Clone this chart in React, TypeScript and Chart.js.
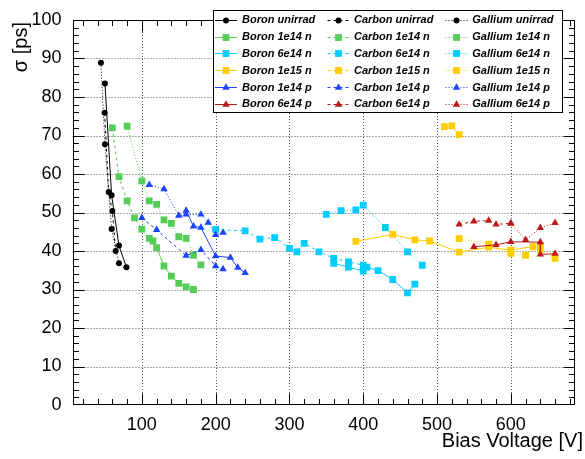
import { useEffect, useRef } from "react";
import { Chart, registerables } from "chart.js";

Chart.register(...registerables);

// ---- axis ticks ----
const xTickValues = [100, 200, 300, 400, 500, 600];
const yTickValues = [0, 10, 20, 30, 40, 50, 60, 70, 80, 90, 100];
const X_MIN = 6;
const X_MAX = 687;
const Y_MIN = 0;
const Y_MAX = 100;

// ---- unirradiated ----
const boronUnirradV = [50, 59, 69, 79];
const boronUnirradS = [83.5, 54.5, 41.4, 35.8];
const carbonUnirradV = [49.5, 55, 60, 64.5];
const carbonUnirradS = [75.9, 55.3, 50.4, 40.0];
const galliumUnirradV = [44.5, 50, 59, 69];
const galliumUnirradS = [88.9, 67.7, 45.7, 36.8];

// ---- 1e14 n ----
const boron1e14nV = [115, 120, 130, 140, 150, 160, 170];
const boron1e14nS = [42.6, 40.9, 36.1, 33.5, 31.6, 30.7, 30.0];
const carbon1e14nV = [60, 69, 80, 90, 100, 110];
const carbon1e14nS = [72.0, 59.3, 53.0, 48.6, 45.7, 43.3];
const gallium1e14nV = [80, 100, 110, 120, 130, 140, 150, 160, 170, 180];
const gallium1e14nS = [72.4, 58.2, 53.0, 52.1, 48.1, 47.2, 43.7, 43.3, 38.9, 36.4];

// ---- 6e14 n ----
const boron6e14nV = [360, 380, 400, 405, 420, 440, 460, 470];
const boron6e14nS = [36.8, 35.8, 34.8, 35.8, 34.9, 32.6, 29.1, 31.4];
const carbon6e14nV = [200, 240, 260, 280, 300, 310, 320, 340, 360, 380, 400];
const carbon6e14nS = [45.6, 45.2, 43.1, 43.5, 40.7, 39.8, 42.0, 39.8, 38.1, 37.2, 36.3];
const gallium6e14nV = [350, 370, 390, 400, 430, 460, 480];
const gallium6e14nS = [49.5, 50.5, 50.7, 51.9, 46.1, 39.8, 36.3];

// ---- 1e15 n ----
const boron1e15nV = [390, 440, 470, 490, 530, 570, 600, 640];
const boron1e15nS = [42.5, 44.3, 42.9, 42.6, 39.7, 41.0, 40.2, 41.5];
const carbon1e15nV = [510, 520, 530];
const carbon1e15nS = [72.3, 72.5, 70.2];
const gallium1e15nV = [530, 570, 600, 620, 630, 640, 660];
const gallium1e15nS = [43.2, 41.8, 39.4, 38.9, 41.1, 40.3, 38.1];

// ---- 1e14 p ----
const boron1e14pV = [160, 170, 180, 200, 220, 230, 240];
const boron1e14pS = [50.5, 46.4, 46.1, 38.7, 38.3, 35.7, 34.3];
const carbon1e14pV = [100, 120, 160, 180, 200, 210];
const carbon1e14pS = [48.6, 45.5, 38.8, 40.3, 36.1, 35.3];
const gallium1e14pV = [110, 130, 150, 160, 180, 190, 200, 210];
const gallium1e14pS = [57.2, 56.1, 49.2, 49.5, 49.5, 47.4, 44.2, 44.8];

// ---- 6e14 p ----
const boron6e14pV = [550, 580, 600, 640, 640, 660];
const boron6e14pS = [41.1, 41.6, 42.4, 42.3, 39.1, 39.3];
const carbon6e14pV = [530, 550, 570, 580, 600];
const carbon6e14pS = [46.9, 47.7, 47.9, 46.9, 47.2];
const gallium6e14pV = [600, 620, 640, 660];
const gallium6e14pS = [47.2, 42.9, 46.0, 47.3];

const FONT = "'Liberation Sans', Arial, Helvetica, sans-serif";

type SeriesDef = {
  label: string;
  v: number[];
  s: number[];
  color: string;
  dash: number[];
  marker: "circle" | "rect" | "triangle";
};

const BLACK = "#000000";
const GREEN = "#55cc55";
const CYAN = "#00ccff";
const YELLOW = "#ffcc00";
const BLUE = "#1a44ff";
const RED = "#bb1a1a";

const SOLID: number[] = [];
const DASHED = [3, 3];
const DOTTED = [1, 2];

const series: SeriesDef[] = [
  { label: "Boron unirrad", v: boronUnirradV, s: boronUnirradS, color: BLACK, dash: SOLID, marker: "circle" },
  { label: "Carbon unirrad", v: carbonUnirradV, s: carbonUnirradS, color: BLACK, dash: DASHED, marker: "circle" },
  { label: "Gallium unirrad", v: galliumUnirradV, s: galliumUnirradS, color: BLACK, dash: DOTTED, marker: "circle" },
  { label: "Boron 1e14 n", v: boron1e14nV, s: boron1e14nS, color: GREEN, dash: SOLID, marker: "rect" },
  { label: "Carbon 1e14 n", v: carbon1e14nV, s: carbon1e14nS, color: GREEN, dash: DASHED, marker: "rect" },
  { label: "Gallium 1e14 n", v: gallium1e14nV, s: gallium1e14nS, color: GREEN, dash: DOTTED, marker: "rect" },
  { label: "Boron 6e14 n", v: boron6e14nV, s: boron6e14nS, color: CYAN, dash: SOLID, marker: "rect" },
  { label: "Carbon 6e14 n", v: carbon6e14nV, s: carbon6e14nS, color: CYAN, dash: DASHED, marker: "rect" },
  { label: "Gallium 6e14 n", v: gallium6e14nV, s: gallium6e14nS, color: CYAN, dash: DOTTED, marker: "rect" },
  { label: "Boron 1e15 n", v: boron1e15nV, s: boron1e15nS, color: YELLOW, dash: SOLID, marker: "rect" },
  { label: "Carbon 1e15 n", v: carbon1e15nV, s: carbon1e15nS, color: YELLOW, dash: DASHED, marker: "rect" },
  { label: "Gallium 1e15 n", v: gallium1e15nV, s: gallium1e15nS, color: YELLOW, dash: DOTTED, marker: "rect" },
  { label: "Boron 1e14 p", v: boron1e14pV, s: boron1e14pS, color: BLUE, dash: SOLID, marker: "triangle" },
  { label: "Carbon 1e14 p", v: carbon1e14pV, s: carbon1e14pS, color: BLUE, dash: DASHED, marker: "triangle" },
  { label: "Gallium 1e14 p", v: gallium1e14pV, s: gallium1e14pS, color: BLUE, dash: DOTTED, marker: "triangle" },
  { label: "Boron 6e14 p", v: boron6e14pV, s: boron6e14pS, color: RED, dash: SOLID, marker: "triangle" },
  { label: "Carbon 6e14 p", v: carbon6e14pV, s: carbon6e14pS, color: RED, dash: DASHED, marker: "triangle" },
  { label: "Gallium 6e14 p", v: gallium6e14pV, s: gallium6e14pS, color: RED, dash: DOTTED, marker: "triangle" },
];

const markerRadius = { circle: 3, rect: 4.8, triangle: 4.3 };

function drawMarker(ctx: CanvasRenderingContext2D, kind: string, x: number, y: number, color: string) {
  const r = (markerRadius as any)[kind];
  ctx.fillStyle = color;
  ctx.beginPath();
  if (kind === "circle") {
    ctx.arc(x, y, r, 0, Math.PI * 2);
  } else if (kind === "rect") {
    const h = r * Math.SQRT1_2;
    ctx.rect(x - h, y - h, 2 * h, 2 * h);
  } else {
    ctx.moveTo(x, y - r);
    ctx.lineTo(x + Math.sin((Math.PI * 2) / 3) * r, y - Math.cos((Math.PI * 2) / 3) * r);
    ctx.lineTo(x + Math.sin((Math.PI * 4) / 3) * r, y - Math.cos((Math.PI * 4) / 3) * r);
    ctx.closePath();
  }
  ctx.fill();
}

const framePlugin = {
  id: "rootFrame",
  beforeDatasetsDraw(chart: any) {
    const { ctx, chartArea: a, scales } = chart;
    const x = scales.x;
    const y = scales.y;
    ctx.save();
    ctx.strokeStyle = "#555";
    ctx.lineWidth = 1;
    ctx.setLineDash([1, 2]);
    for (const v of xTickValues) {
      const px = Math.round(x.getPixelForValue(v)) + 0.5;
      ctx.beginPath();
      ctx.moveTo(px, a.top);
      ctx.lineTo(px, a.bottom);
      ctx.stroke();
    }
    for (const v of yTickValues) {
      if (v <= Y_MIN || v >= Y_MAX) continue;
      const py = Math.round(y.getPixelForValue(v)) + 0.5;
      ctx.beginPath();
      ctx.moveTo(a.left, py);
      ctx.lineTo(a.right, py);
      ctx.stroke();
    }
    ctx.restore();
  },
  afterDatasetsDraw(chart: any) {
    const { ctx, chartArea: a, scales } = chart;
    const x = scales.x;
    const y = scales.y;
    ctx.save();
    ctx.strokeStyle = "#000";
    ctx.lineWidth = 1;
    ctx.setLineDash([]);
    const L = Math.round(a.left) + 0.5;
    const R = Math.round(a.right) - 0.5;
    const T = Math.round(a.top) + 0.5;
    const B = Math.round(a.bottom) - 0.5;
    ctx.strokeRect(L, T, R - L, B - T);
    const major = 11;
    const minor = 5.5;
    ctx.beginPath();
    for (let v = 20; v < X_MAX; v += 20) {
      if (v < X_MIN) continue;
      const px = Math.round(x.getPixelForValue(v)) + 0.5;
      const len = v % 100 === 0 ? major : minor;
      ctx.moveTo(px, B);
      ctx.lineTo(px, B - len);
      ctx.moveTo(px, T);
      ctx.lineTo(px, T + len);
    }
    for (let v = 2; v < Y_MAX; v += 2) {
      const py = Math.round(y.getPixelForValue(v)) + 0.5;
      const len = v % 10 === 0 ? major : minor;
      ctx.moveTo(L, py);
      ctx.lineTo(L + len, py);
      ctx.moveTo(R, py);
      ctx.lineTo(R - len, py);
    }
    ctx.stroke();

    // axis titles
    ctx.fillStyle = "#000";
    ctx.font = `20px ${FONT}`;
    ctx.textBaseline = "alphabetic";
    ctx.textAlign = "right";
    ctx.fillText("Bias Voltage [V]", 583, 447);
    ctx.save();
    ctx.translate(27, 22);
    ctx.rotate(-Math.PI / 2);
    ctx.textAlign = "right";
    ctx.fillText("σ [ps]", 0, 0);
    ctx.restore();
    ctx.restore();
  },
};

const LEG_MARK_X = [226, 338.5, 456.5];
const LEG_TEXT_X = [242, 354, 472.3];
const LEG_ROW_Y0 = 19.8;
const LEG_ROW_STEP = 16.8;

const legendPlugin = {
  id: "rootLegend",
  afterDraw(chart: any) {
    const ctx: CanvasRenderingContext2D = chart.ctx;
    ctx.save();
    ctx.fillStyle = "#fff";
    ctx.fillRect(213.5, 10.5, 349, 102);
    ctx.strokeStyle = "#000";
    ctx.lineWidth = 1;
    ctx.setLineDash([]);
    ctx.strokeRect(213.5, 10.5, 349, 102);
    chart.data.datasets.forEach((ds: any, i: number) => {
      const col = i % 3;
      const row = Math.floor(i / 3);
      const cx = LEG_MARK_X[col];
      const cy = LEG_ROW_Y0 + row * LEG_ROW_STEP;
      const ly = Math.round(cy) + 0.5;
      ctx.strokeStyle = ds.borderColor;
      ctx.lineWidth = 1;
      ctx.setLineDash(ds.borderDash || []);
      ctx.beginPath();
      ctx.moveTo(cx - 11, ly);
      ctx.lineTo(cx + 11, ly);
      ctx.stroke();
      ctx.setLineDash([]);
      drawMarker(ctx, ds.pointStyle, cx, ly, ds.pointBackgroundColor);
      ctx.fillStyle = "#000";
      ctx.font = `italic bold 11px ${FONT}`;
      ctx.textAlign = "left";
      ctx.textBaseline = "middle";
      ctx.fillText(ds.label, LEG_TEXT_X[col], cy + 0.5);
    });
    ctx.restore();
  },
};

export default function App() {
  const ref = useRef<HTMLCanvasElement>(null);
  useEffect(() => {
    const canvas = ref.current;
    if (!canvas) return;
    const datasets = series.map((sd, i) => ({
      label: sd.label,
      data: sd.v.map((vx, k) => ({ x: vx, y: sd.s[k] })),
      showLine: true,
      borderColor: sd.color,
      backgroundColor: sd.color,
      pointBackgroundColor: sd.color,
      pointBorderWidth: 0,
      pointStyle: sd.marker,
      pointRadius: markerRadius[sd.marker],
      pointHoverRadius: markerRadius[sd.marker],
      borderWidth: 1,
      borderDash: sd.dash,
      fill: false,
      tension: 0,
      order: -i,
    }));
    const tickFont = { family: FONT, size: 18 };
    const chart = new Chart(canvas, {
      type: "scatter",
      data: { datasets } as any,
      options: {
        responsive: false,
        animation: false,
        devicePixelRatio: 1,
        events: [],
        layout: { padding: { top: 20, right: 10, left: 0, bottom: 0 } },
        plugins: {
          legend: { display: false },
          tooltip: { enabled: false },
          title: { display: false },
        },
        scales: {
          x: {
            type: "linear",
            min: X_MIN,
            max: X_MAX,
            grid: { display: false },
            border: { display: false },
            afterBuildTicks: (s: any) => {
              s.ticks = xTickValues.map((v) => ({ value: v }));
            },
            afterFit: (s: any) => {
              s.height = 54;
            },
            ticks: { font: tickFont, color: "#000", padding: 1, maxRotation: 0, autoSkip: false },
          },
          y: {
            type: "linear",
            min: Y_MIN,
            max: Y_MAX,
            grid: { display: false },
            border: { display: false },
            afterBuildTicks: (s: any) => {
              s.ticks = yTickValues.map((v) => ({ value: v }));
            },
            afterFit: (s: any) => {
              s.width = 72.5;
            },
            ticks: { font: tickFont, color: "#000", padding: 3, autoSkip: false },
          },
        },
      } as any,
      plugins: [framePlugin, legendPlugin],
    });
    return () => chart.destroy();
  }, []);
  return (
    <div style={{ position: "absolute", left: 0, top: 0, width: 585, height: 459, background: "#fff" }}>
      <canvas ref={ref} width={585} height={459} style={{ width: 585, height: 459, display: "block" }} />
    </div>
  );
}
